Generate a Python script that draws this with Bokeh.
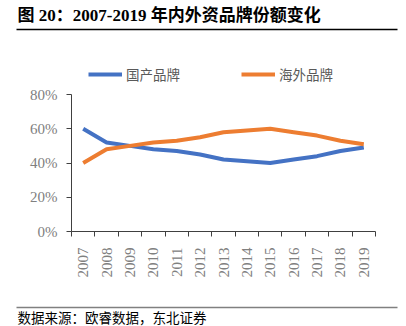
from bokeh.plotting import figure
from bokeh.models import Range1d, FixedTicker, PrintfTickFormatter, Legend, LegendItem
from bokeh.core.properties import value
from bokeh.embed import file_html
from bokeh.resources import INLINE
import math

years = [2007, 2008, 2009, 2010, 2011, 2012, 2013, 2014, 2015, 2016, 2017, 2018, 2019]
domestic = [60, 52, 50, 48, 47, 45, 42, 41, 40, 42, 44, 47, 49]
foreign = [40, 48, 50, 52, 53, 55, 58, 59, 60, 58, 56, 53, 51]
series_names = ["国产品牌", "海外品牌"]
title_text = "图 20：2007-2019 年内外资品牌份额变化"
source_text = "数据来源：欧睿数据，东北证券"
y_ticks = [0, 20, 40, 60, 80]
y_max = 80

W, H = 406, 326
FL, FR, FT, FB = 71, 375, 94, 231   # plot area edges in canvas pixels
SERIF = "'Liberation Serif', 'Times New Roman', 'Noto Sans CJK SC'"
CJK = "'Noto Sans CJK SC'"

x0, x1 = years[0] - 0.5, years[-1] + 0.5
px_x = (FR - FL) / (x1 - x0)
px_y = (FB - FT) / y_max
x_range = Range1d(x0 - FL / px_x, x1 + (W - FR) / px_x)
y_range = Range1d(-(H - FB) / px_y, y_max + FT / px_y)

def dx(cx):
    return x_range.start + cx / px_x

def dy(cy):
    return y_range.end - cy / px_y

p = figure(width=W, height=H, output_backend="svg", toolbar_location=None,
           x_range=x_range, y_range=y_range,
           min_border=0, min_border_left=0, min_border_right=0,
           min_border_top=0, min_border_bottom=0, outline_line_color=None)
p.grid.visible = False

r1 = p.line(years, domestic, line_color="#4472C4", line_width=4)
r2 = p.line(years, foreign, line_color="#ED7D31", line_width=4)

ax = p.xaxis[0]
ax.fixed_location = 0
ax.bounds = (x0, x1)
ax.ticker = FixedTicker(ticks=years, minor_ticks=[y - 0.5 for y in years] + [x1])
ax.major_tick_line_color = None
ax.major_tick_out = 0
ax.major_tick_in = 0
ax.minor_tick_line_color = "#404040"
ax.minor_tick_out = 5
ax.minor_tick_in = 0
ax.axis_line_color = "#404040"
ax.major_label_orientation = math.pi / 2
ax.major_label_text_font = SERIF
ax.major_label_text_font_size = "15px"
ax.major_label_text_color = "#808080"
ax.major_label_standoff = 11

ay = p.yaxis[0]
ay.fixed_location = x0
ay.bounds = (0, y_max)
ay.ticker = FixedTicker(ticks=y_ticks)
ay.formatter = PrintfTickFormatter(format="%d%%")
ay.minor_tick_line_color = None
ay.major_tick_out = 5
ay.major_tick_in = 0
ay.major_tick_line_color = "#404040"
ay.axis_line_color = "#404040"
ay.major_label_text_font = SERIF
ay.major_label_text_font_size = "15px"
ay.major_label_text_color = "#808080"
ay.major_label_standoff = 9

legend = Legend(items=[LegendItem(label=series_names[0], renderers=[r1]),
                       LegendItem(label=series_names[1], renderers=[r2])],
                orientation="horizontal", location=(88, H - 83.5),
                glyph_width=34, glyph_height=14, label_height=14, label_standoff=4,
                spacing=61, padding=0, margin=0,
                border_line_color=None, background_fill_alpha=0,
                label_text_font=CJK, label_text_font_size="13.5px",
                label_text_color="#595959")
p.add_layout(legend, "center")

# title and its rule
p.text(x=[dx(17)], y=[dy(15)], text=[title_text], text_font=value(SERIF),
       text_font_style="bold", text_font_size="17px",
       text_baseline="middle", text_align="left", text_color="#000000")
p.segment(x0=[dx(16)], y0=[dy(29)], x1=[dx(397)], y1=[dy(29)],
          line_color="#000000", line_width=1.3)

# source rule and text
p.segment(x0=[dx(16)], y0=[dy(307)], x1=[dx(397)], y1=[dy(307)],
          line_color="#808080", line_width=1.3)
p.text(x=[dx(17)], y=[dy(316.5)], text=[source_text], text_font=value(CJK),
       text_font_size="13.5px", text_baseline="middle", text_align="left",
       text_color="#000000")

open("out.html", "w").write(file_html(p, INLINE))
